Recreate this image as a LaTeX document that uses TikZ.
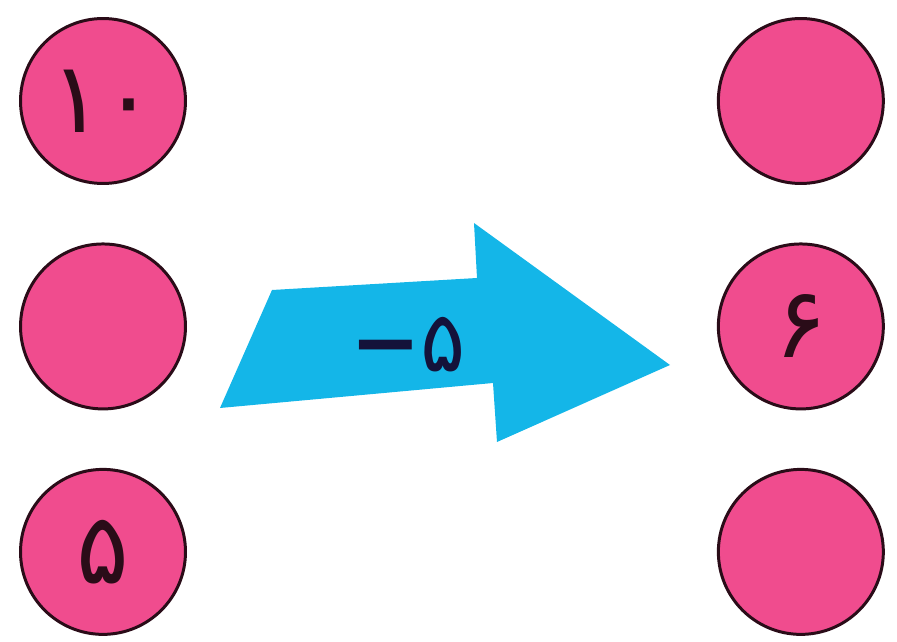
\documentclass[tikz,border=0pt]{standalone}
\usepackage{fontspec}
\newfontfamily\farsi[Script=Arabic]{DejaVu Sans}
\newfontfamily\signfont{DejaVu Sans}
\usetikzlibrary{positioning}
\definecolor{cpink}{HTML}{F04C8E}
\definecolor{cblue}{HTML}{14B6E8}
\definecolor{cink}{HTML}{2a0c18}
\definecolor{cnavy}{HTML}{14123a}

\begin{document}
\begin{tikzpicture}[x=.02cm, y=-.02cm, every node/.style={font=\farsi\fontsize{56}{60}\selectfont, text=cink}]
      \useasboundingbox (0,0) rectangle (897,642);
      \tikzset{ball/.style={circle, draw=cink, line width=1.7pt, fill=cpink, minimum size=3.3cm, inner sep=0pt}}
      % left column
      \node[ball] (l1) at (103,101) {۱۰};
      \node[ball, below=1.15cm of l1] (l2) {};
      \node[ball, below=1.15cm of l2] (l3) {۵};
      % right column
      \node[ball, right=10.6cm of l1] (r1) {};
      \node[ball, below=1.15cm of r1] (r2) {۶};
      \node[ball, below=1.15cm of r2] (r3) {};
      % block arrow
      \fill[cblue] (220,408) -- (272,290) -- (477,278) -- (474,223) -- (670,365) -- (497,442) -- (493,383) -- cycle;
      \node[text=cnavy, font=\farsi\fontsize{48}{52}\selectfont] (minus) at (408,345) {{\signfont\bfseries −}۵};
    \end{tikzpicture}
\end{document}
